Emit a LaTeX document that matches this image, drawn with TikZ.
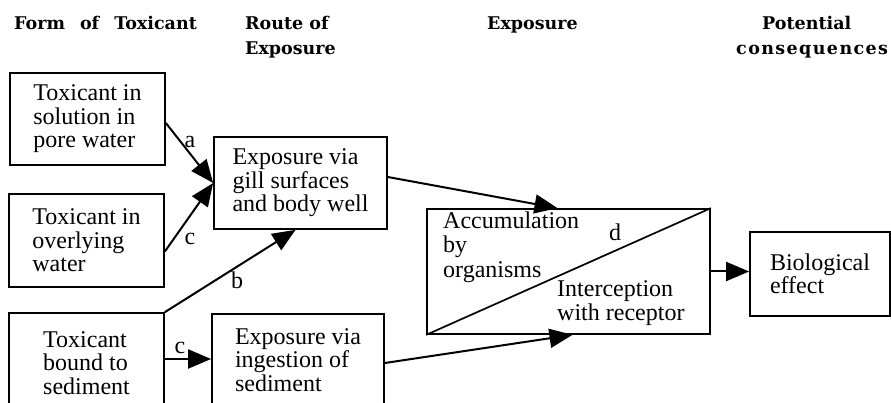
\documentclass[tikz,border=0pt]{standalone}
\usepackage{fontspec}
\setmainfont{Liberation Serif}
\newfontfamily\hdfont{DejaVu Serif}
\usetikzlibrary{arrows.meta}
\newcommand\bodyfont{\fontsize{24}{23.5}\selectfont}
\begin{document}
\begin{tikzpicture}[x=1pt,y=-1pt,
  box/.style={draw, line width=1.7pt, rectangle, inner sep=0pt, align=left, font=\bodyfont},
  arr/.style={line width=2pt, -{Triangle[length=23pt,width=19pt]}},
  hd/.style={font=\hdfont\bfseries\fontsize{17.5}{25}\selectfont, inner sep=0pt},
  lbl/.style={font=\bodyfont, inner sep=0pt}]
\useasboundingbox (0,0) rectangle (891,403);
% headers
\node[hd, anchor=base west] (h1) at (14,30) {Form\hspace{15pt}of\hspace{15pt}Toxicant};
\node[hd, anchor=base west, align=left] (h2) at (245,55) {Route of\\Exposure};
\node[hd, anchor=base west] (h3) at (487,30) {Exposure};
\node[hd, anchor=base west, align=left] (h4) at (736,55) {\hspace*{26pt}Potential\\{\addfontfeature{LetterSpace=8}consequences}};
% boxes
\node[box, minimum width=155pt, minimum height=92pt] (b1) at (87.5,119) {Toxicant in\\solution in\\pore water};
\node[box, minimum width=155pt, minimum height=93pt] (b2) at (86.5,240.5) {Toxicant in\\overlying\\water};
\node[box, minimum width=155pt, minimum height=100pt] (b3) at (86.5,363) {Toxicant\\bound to\\sediment};
\node[box, minimum width=173pt, minimum height=92pt] (b4) at (300.5,183) {Exposure via\\gill surfaces\\and body well};
\node[box, minimum width=172pt, minimum height=92pt] (b5) at (298,360) {Exposure via\\ingestion of\\sediment};
\node[box, minimum width=283pt, minimum height=125pt] (acc) at (568.5,271.5) {};
\node[box, minimum width=140pt, minimum height=84pt] (bio) at (820,274) {Biological\\effect};
\draw[line width=1.7pt] (acc.south west) -- (acc.north east);
\node[lbl, align=left, anchor=base west, font=\fontsize{24}{24.5}\selectfont] (acctxt) at (443,277) {Accumulation\\by\\organisms};
\node[lbl, align=left, anchor=base west, font=\fontsize{24}{24}\selectfont] (inttxt) at (557,320) {Interception\\with receptor};
% connectors
\draw[arr] ([yshift=-4pt]b1.east) -- (b4.west);
\draw[arr] ([yshift=-11pt]b2.east) -- (b4.west);
\draw[arr] (b3.north east) -- ([xshift=-5pt]b4.south);
\draw[arr] ([yshift=4pt]b3.east) -- ([yshift=4pt]b3.east -| b5.west);
\draw[arr] ([yshift=6pt]b4.east) -- ([xshift=-11pt]acc.north);
\draw[arr] ([yshift=-3pt]b5.east) -- ([xshift=4pt]acc.south);
\draw[arr] (acc.east) -- (acc.east -| bio.west);
% labels
\node[lbl, anchor=base] (la) at (190,148) {a};
\node[lbl, anchor=base] (lc1) at (190,245) {c};
\node[lbl, anchor=base] (lb) at (237,288) {b};
\node[lbl, anchor=base] (lc2) at (180,353) {c};
\node[lbl, anchor=base] (ld) at (615,241) {d};
\end{tikzpicture}
\end{document}
